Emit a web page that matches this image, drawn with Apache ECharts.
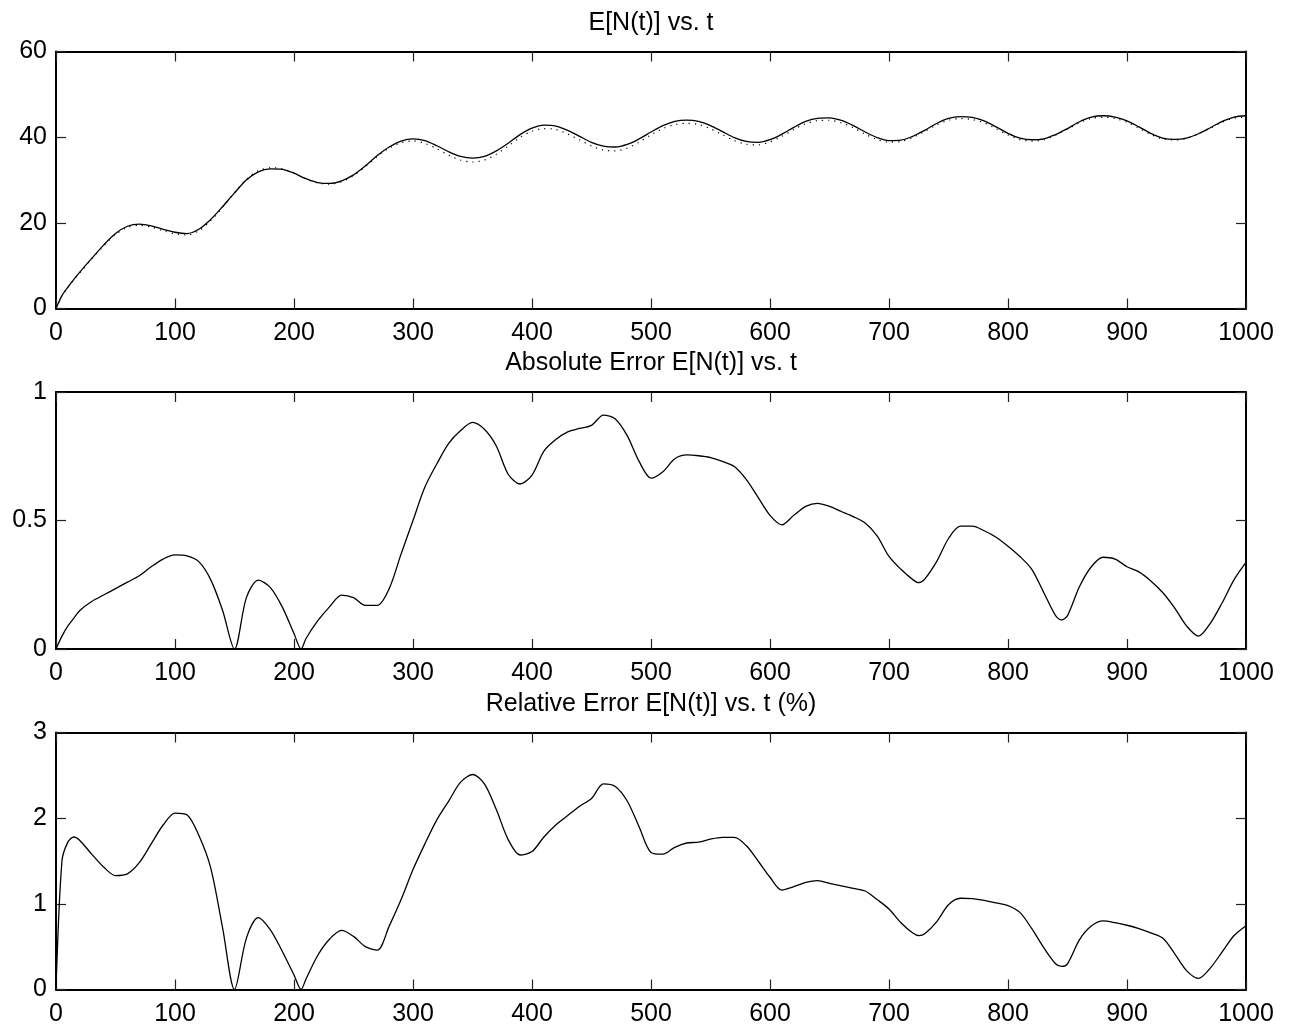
<!DOCTYPE html>
<html>
<head>
<meta charset="utf-8">
<script src="https://cdn.jsdelivr.net/npm/echarts@6/dist/echarts.min.js"></script>
<style>
html,body{margin:0;padding:0;background:#fff;}
#chart{width:1290px;height:1029px;}
</style>
</head>
<body>
<div id="chart"></div>
<script>
// time samples (t)
var tValues = [0,5,10,15,20,30,40,50,60,70,80,90,100,110,120,130,140,150,160,170,180,190,200,206,210,220,230,240,250,260,270,280,290,300,310,320,330,340,350,360,370,380,390,400,410,420,430,440,450,460,470,480,490,500,510,520,530,540,550,560,570,580,590,600,610,620,630,640,650,660,670,680,690,700,710,720,725,730,740,750,760,770,780,790,800,810,820,830,840,845,850,860,870,880,890,900,910,920,930,940,950,960,970,980,990,1000];

// E[N(t)] (solid)
var expectedN = [0,3.0,5.0,6.8,8.5,11.7,14.8,17.5,19.2,19.7,19.3,18.5,17.8,17.5,18.5,20.8,23.8,27.0,30.0,31.9,32.6,32.5,31.6,30.8,30.3,29.4,29.2,29.8,31.2,33.3,35.7,37.7,39.1,39.6,39.2,38.0,36.6,35.5,35.1,35.5,36.8,38.6,40.6,42.1,42.8,42.6,41.6,40.2,38.8,37.9,37.7,38.3,39.6,41.2,42.7,43.7,44.0,43.7,42.7,41.3,39.9,39.0,38.8,39.4,40.7,42.3,43.7,44.4,44.5,43.9,42.7,41.2,39.9,39.2,39.3,40.2,40.9,41.6,43.2,44.4,44.8,44.6,43.8,42.4,40.9,39.8,39.4,39.6,40.6,41.3,42.0,43.6,44.7,45.0,44.7,43.8,42.4,40.9,39.8,39.5,39.8,40.8,42.2,43.7,44.7,45.0];

// approximation (dotted)
var approxN = [0,2.95,4.9,6.68,8.35,11.5,14.6,17.25,18.95,19.4,19.0,18.15,17.45,17.15,18.15,20.5,23.65,27.0,30.2,32.15,32.85,32.65,31.65,30.8,30.25,29.3,29.05,29.6,31.0,33.1,35.5,37.45,38.7,39.1,38.55,37.3,35.8,34.65,34.2,34.65,36.0,37.9,39.95,41.4,42.0,41.8,40.75,39.35,37.95,37.0,36.8,37.45,38.85,40.55,42.0,42.95,43.25,42.95,41.95,40.55,39.2,38.35,38.2,38.9,40.2,41.8,43.15,43.85,43.95,43.35,42.2,40.7,39.45,38.85,39.0,39.93,40.64,41.33,42.85,43.97,44.32,44.12,43.34,41.97,40.5,39.44,39.09,39.38,40.47,41.19,41.87,43.36,44.38,44.64,44.35,43.48,42.1,40.63,39.58,39.34,39.71,40.75,42.1,43.51,44.43,44.66];

// absolute error
var absError = [0,0.05,0.09,0.12,0.15,0.185,0.21,0.235,0.26,0.285,0.32,0.35,0.366,0.362,0.34,0.27,0.15,0,0.2,0.268,0.24,0.165,0.06,0,0.04,0.11,0.165,0.21,0.2,0.17,0.17,0.235,0.37,0.5,0.63,0.72,0.8,0.85,0.882,0.855,0.79,0.68,0.642,0.677,0.77,0.815,0.845,0.858,0.87,0.91,0.895,0.83,0.73,0.665,0.69,0.74,0.755,0.752,0.745,0.73,0.71,0.66,0.59,0.52,0.483,0.52,0.555,0.567,0.555,0.535,0.515,0.49,0.44,0.36,0.31,0.27,0.258,0.272,0.34,0.43,0.478,0.478,0.46,0.435,0.4,0.36,0.31,0.22,0.13,0.113,0.13,0.242,0.32,0.357,0.35,0.32,0.3,0.265,0.22,0.16,0.09,0.05,0.1,0.18,0.27,0.337];

// relative error (%)
var relError = [0,1.5,1.72,1.78,1.74,1.58,1.43,1.33,1.35,1.48,1.7,1.92,2.06,2.04,1.8,1.42,0.72,0,0.6,0.84,0.7,0.45,0.17,0,0.12,0.4,0.59,0.69,0.62,0.5,0.46,0.74,1.05,1.4,1.7,1.98,2.2,2.42,2.51,2.4,2.1,1.75,1.57,1.61,1.78,1.92,2.03,2.14,2.23,2.4,2.37,2.2,1.9,1.6,1.58,1.66,1.71,1.72,1.755,1.775,1.775,1.68,1.5,1.31,1.16,1.2,1.25,1.27,1.24,1.21,1.18,1.15,1.05,0.94,0.78,0.66,0.63,0.65,0.79,0.99,1.065,1.06,1.04,1.01,0.98,0.9,0.71,0.49,0.3,0.27,0.3,0.58,0.74,0.8,0.78,0.75,0.71,0.66,0.6,0.42,0.22,0.13,0.25,0.44,0.63,0.745];

var titles = ['E[N(t)] vs. t', 'Absolute Error E[N(t)] vs. t', 'Relative Error E[N(t)] vs. t (%)'];
var yTicks1 = [0, 60, 20];
var yTicks2 = [0, 1, 0.5];
var yTicks3 = [0, 3, 1];

function pairs(arr){ return tValues.map(function(t,i){ return [t, arr[i]]; }); }

var FONT = '"Liberation Sans", Arial, Helvetica, sans-serif';
var gridTops = [51.5, 392, 732.5];
var titleTops = [11, 351, 691.5];
var yRanges = [yTicks1, yTicks2, yTicks3];

var grids = [], xAxes = [], yAxes = [], titleArr = [];
var tickStyle = {show:true, inside:true, length:10, lineStyle:{color:'#222', width:1.2}};
var baseLine = {show:true, onZero:false, lineStyle:{color:'#000', width:2}};
gridTops.forEach(function(top, i){
  grids.push({left:56, width:1190, top:top, height:257, show:false, containLabel:false});
  titleArr.push({text:titles[i], left:651, top:titleTops[i], textAlign:'center', padding:0,
    textStyle:{fontFamily:FONT, fontSize:25, fontWeight:'normal', color:'#000'}});
  xAxes.push({type:'value', gridIndex:i, min:0, max:1000, interval:100, position:'bottom',
    axisLine:baseLine, axisTick:tickStyle,
    axisLabel:{show:true, color:'#000', fontFamily:FONT, fontSize:25, margin:12,
      formatter:function(v){ return String(v); }},
    splitLine:{show:false}});
  xAxes.push({type:'value', gridIndex:i, min:0, max:1000, interval:100, position:'top',
    axisLine:baseLine, axisTick:tickStyle,
    axisLabel:{show:false}, splitLine:{show:false}});
  var r = yRanges[i];
  yAxes.push({type:'value', gridIndex:i, min:r[0], max:r[1], interval:r[2], position:'left',
    axisLine:baseLine, axisTick:tickStyle,
    axisLabel:{show:true, color:'#000', fontFamily:FONT, fontSize:25, margin:9,
      formatter:function(v){ return String(v); }},
    splitLine:{show:false}});
  yAxes.push({type:'value', gridIndex:i, min:r[0], max:r[1], interval:r[2], position:'right',
    axisLine:baseLine, axisTick:tickStyle,
    axisLabel:{show:false}, splitLine:{show:false}});
});

var lineBase = {type:'line', showSymbol:false, symbol:'none', smooth:0.3, animation:false, silent:true, clip:true};
var series = [
  Object.assign({}, lineBase, {name:'approx', xAxisIndex:0, yAxisIndex:0, data:pairs(approxN),
    lineStyle:{color:'#000', width:1.2, type:[1.2,5]}}),
  Object.assign({}, lineBase, {name:'E[N(t)]', xAxisIndex:0, yAxisIndex:0, data:pairs(expectedN),
    lineStyle:{color:'#000', width:1.3}}),
  Object.assign({}, lineBase, {name:'abs', xAxisIndex:2, yAxisIndex:2, data:pairs(absError),
    lineStyle:{color:'#000', width:1.3}}),
  Object.assign({}, lineBase, {name:'rel', xAxisIndex:4, yAxisIndex:4, data:pairs(relError),
    lineStyle:{color:'#000', width:1.3}})
];

var chart = echarts.init(document.getElementById('chart'), null, {renderer:'canvas'});
chart.setOption({
  backgroundColor:'#fff',
  animation:false,
  title:titleArr,
  grid:grids,
  xAxis:xAxes,
  yAxis:yAxes,
  series:series
});
</script>
</body>
</html>
